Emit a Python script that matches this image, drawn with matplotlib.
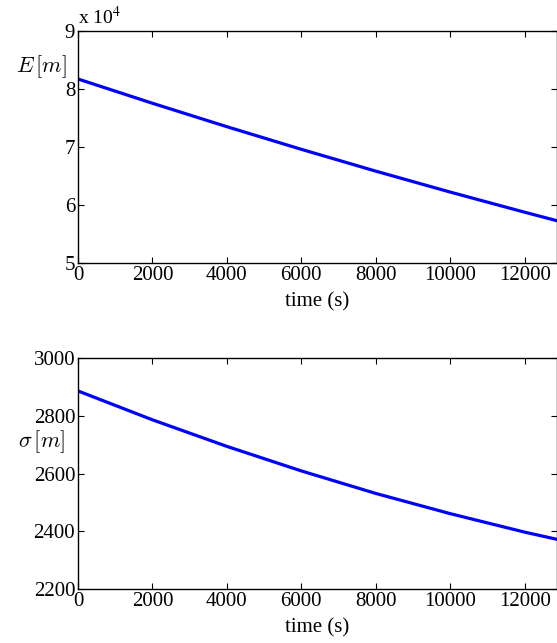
import matplotlib
matplotlib.use("Agg")
import matplotlib.pyplot as plt

# data
time_s = [0, 2000, 4000, 6000, 8000, 10000, 12000, 12870]
energy_e4 = [8.167, 7.749, 7.345, 6.955, 6.579, 6.218, 5.871, 5.724]   # E [m], x 10^4
sigma_m = [2886, 2786, 2694, 2609, 2531, 2461, 2397, 2372]            # sigma [m]

x_ticks = [0, 2000, 4000, 6000, 8000, 10000, 12000]
e_ticks = [5, 6, 7, 8, 9]
s_ticks = [2200, 2400, 2600, 2800, 3000]

plt.rcParams['font.family'] = ['Liberation Serif', 'DejaVu Serif']
plt.rcParams['mathtext.fontset'] = 'stix'

fig = plt.figure(figsize=(5.57, 6.43), dpi=100)
ax1 = fig.add_axes([0.140, 0.5914, 0.860, 0.3609])
ax2 = fig.add_axes([0.140, 0.0840, 0.860, 0.3592])


def style(ax, yticks, ylim):
    ax.set_xlim(0, 12870)
    ax.set_ylim(*ylim)
    ax.set_xticks(x_ticks)
    ax.set_yticks(yticks)
    ax.tick_params(direction='in', top=True, right=True, length=4,
                   width=0.8, labelsize=15, pad=2)
    for sp in ax.spines.values():
        sp.set_linewidth(1.0)
    ax.set_xlabel("time (s)", fontsize=15)
    ax.xaxis.set_label_coords(0.5, -0.125)


ax1.plot(time_s, energy_e4, color=(0, 0, 1), lw=2.3)
style(ax1, e_ticks, (5, 9))
ax1.set_ylabel(r"$E\,[m]$", fontsize=16, rotation=0, ha='center', va='center',
               math_fontfamily='cm')
ax1.yaxis.set_label_coords(-0.077, 0.8435)
ax1.text(0.0, 1.01, r"x 10$^4$", transform=ax1.transAxes, fontsize=14,
         ha='left', va='bottom')

ax2.plot(time_s, sigma_m, color=(0, 0, 1), lw=2.3)
style(ax2, s_ticks, (2200, 3000))
ax2.set_ylabel(r"$\sigma\,[m]$", fontsize=16, rotation=0, ha='center', va='center',
               math_fontfamily='cm')
ax2.yaxis.set_label_coords(-0.077, 0.636)

fig.savefig("out.png", dpi=100)
